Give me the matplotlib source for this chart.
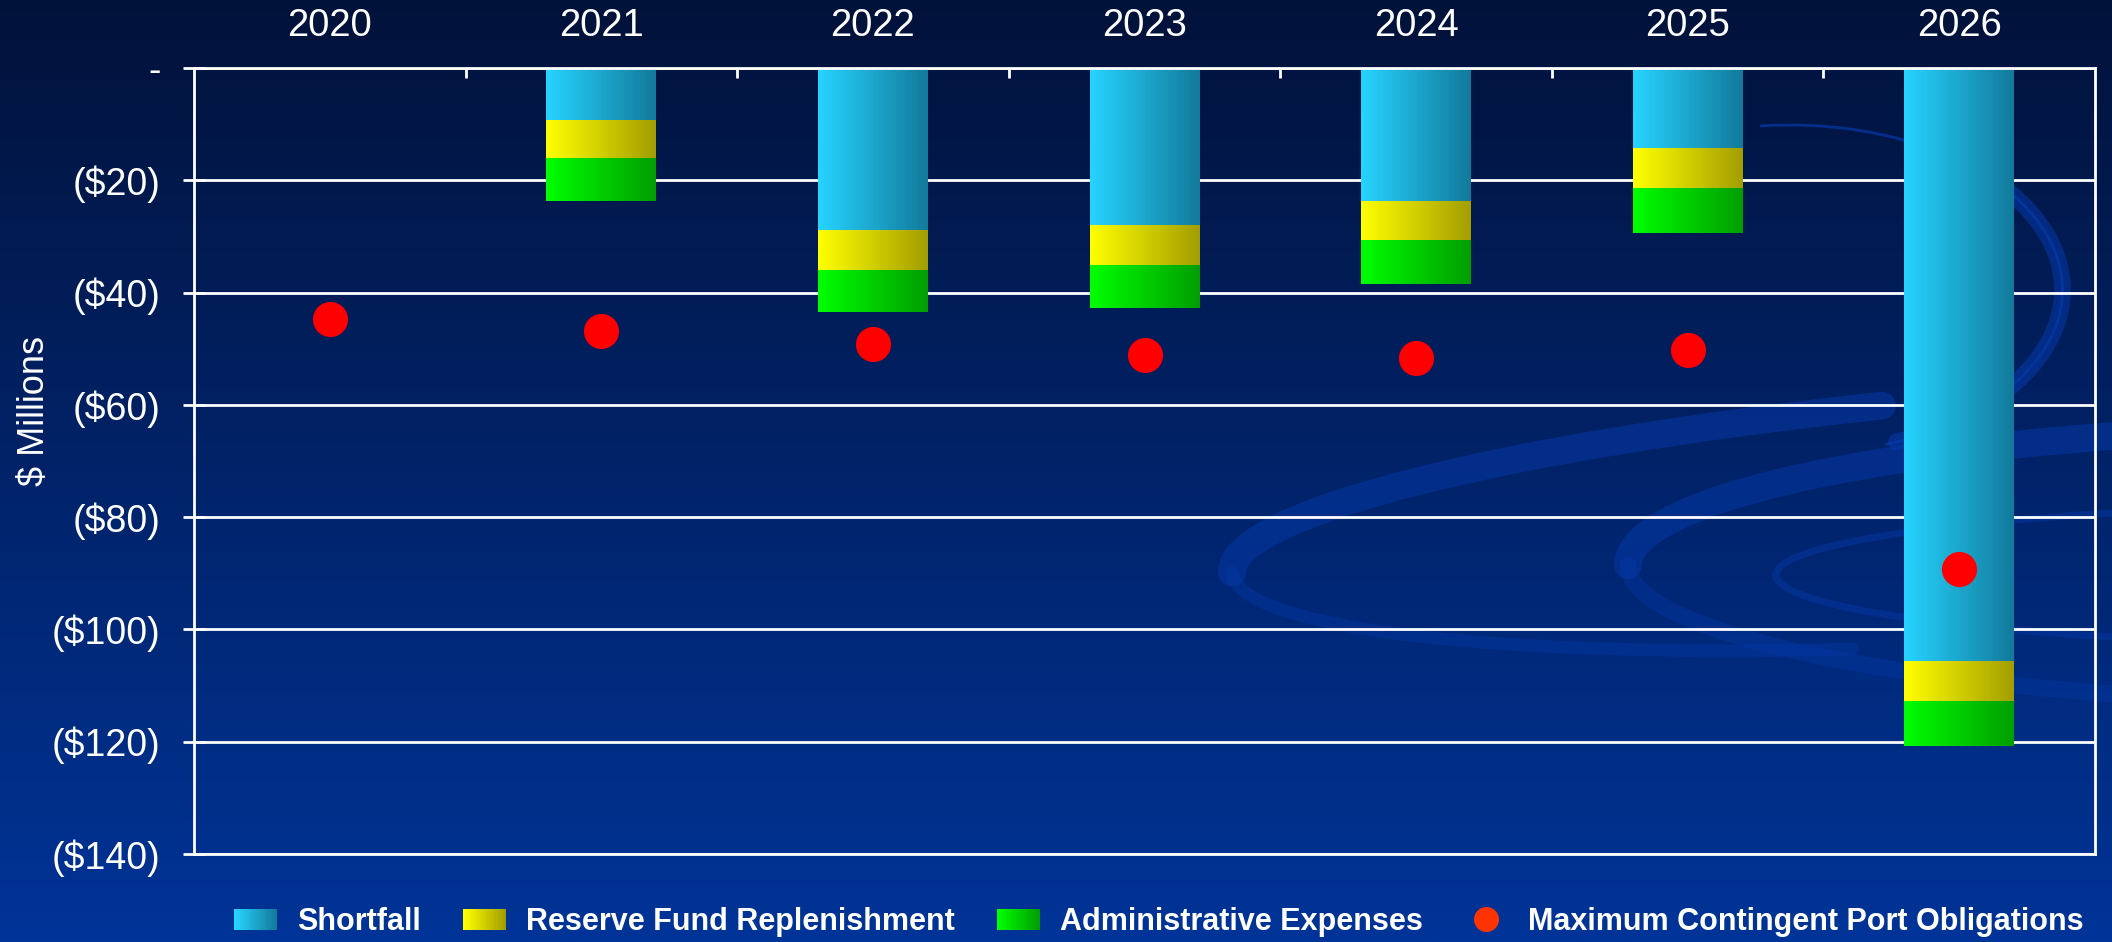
import numpy as np
import matplotlib
matplotlib.use('Agg')
import matplotlib.pyplot as plt
from matplotlib.patches import Rectangle, Ellipse, Arc
from matplotlib.lines import Line2D
from matplotlib.legend_handler import HandlerBase
from matplotlib.colors import to_rgb

# data ($ millions, drawn as negatives)
years = ['2020', '2021', '2022', '2023', '2024', '2025', '2026']
shortfall = [0.0, 9.3, 29.0, 28.1, 23.7, 14.4, 105.6]
reserve = [0.0, 6.9, 7.0, 7.0, 7.1, 7.0, 7.1]
admin = [0.0, 7.5, 7.4, 7.6, 7.7, 8.0, 8.0]
port_max = [44.7, 46.8, 49.1, 51.2, 51.6, 50.3, 89.2]

y_ticks = [0, -20, -40, -60, -80, -100, -120, -140]
y_labels = ['-', '($20)', '($40)', '($60)', '($80)', '($100)', '($120)', '($140)']

series_names = ['Shortfall', 'Reserve Fund Replenishment', 'Administrative Expenses',
                'Maximum Contingent Port Obligations']

# colours (left -> right of each bar)
grad_cyan = ('#26d4ff', '#127a9c')
grad_yellow = ('#ffff00', '#a39e00')
grad_green = ('#00ff00', '#009e00')
dot_red = '#ff0000'


def mix(c1, c2, t):
    a = np.array(to_rgb(c1))
    b = np.array(to_rgb(c2))
    return a + (b - a) * t


def gradient_image(c1, c2, n=256):
    t = np.linspace(0, 1, n)
    return np.array([[mix(c1, c2, v) for v in t]])


class GradientHandler(HandlerBase):
    def __init__(self, c1, c2):
        super().__init__()
        self.c1, self.c2 = c1, c2

    def create_artists(self, legend, orig_handle, xdescent, ydescent,
                       width, height, fontsize, trans):
        n = 24
        arts = []
        for i in range(n):
            c = mix(self.c1, self.c2, i / (n - 1))
            r = Rectangle((-xdescent + i * width / n, -ydescent), width / n * 1.05, height,
                          facecolor=c, edgecolor='none', transform=trans)
            arts.append(r)
        return arts


def swirl_arc(bg, xy, w, h, t1, t2, lw, alpha, angle=0, color='#0539aa'):
    arc = Arc(xy, w, h, angle=angle, theta1=t1, theta2=t2, lw=lw, color=color, alpha=alpha)
    arc.set_capstyle('round')
    bg.add_patch(arc)


def draw_background(fig, W, H):
    # pixel coords, y measured upward
    bg = fig.add_axes([0, 0, 1, 1], zorder=-5)
    top = np.array([2, 18, 58]) / 255.0
    bot = np.array([0, 52, 152]) / 255.0
    tt = np.linspace(0, 1, 400)[:, None]
    grad = top + (bot - top) * tt
    bg.imshow(grad[:, None, :].repeat(2, axis=1), extent=[0, W, 0, H], aspect='auto')

    # first ribbon: left loop + spiral going up to the right
    swirl_arc(bg, (2100, H - 512), 1740, 250, 150, 180, 20, 0.5, angle=4)
    swirl_arc(bg, (2100, H - 512), 1740, 250, 180, 205, 9, 0.4, angle=4)
    swirl_arc(bg, (1790, H - 290), 545, 330, -58, 100, 2, 0.7)
    swirl_arc(bg, (1790, H - 290), 545, 330, -55, 25, 12, 0.55)
    # second ribbon on the right edge
    swirl_arc(bg, (2421, H - 565), 1586, 280, 140, 180, 20, 0.5)
    swirl_arc(bg, (2421, H - 565), 1586, 280, 180, 220, 12, 0.38)
    bg.add_patch(Ellipse((2403, H - 575), 1254, 140, fill=False, lw=5,
                         edgecolor='#0539aa', alpha=0.45))
    # faint sweep near the bottom right
    bg.add_patch(Ellipse((2450, H - 1180), 2000, 520, angle=10, fill=False, lw=40,
                         edgecolor='#0a3eb0', alpha=0.25))
    bg.set_xlim(0, W)
    bg.set_ylim(0, H)
    bg.axis('off')


def main():
    W, H = 2112, 942
    fig = plt.figure(figsize=(W / 100, H / 100), dpi=100)
    plt.rcParams['font.family'] = ['Liberation Sans', 'DejaVu Sans']

    draw_background(fig, W, H)

    ax = fig.add_axes([194 / W, 1 - 854 / H, (2095 - 194) / W, (854 - 68) / H])
    ax.set_facecolor('none')

    x = np.arange(len(years))
    width = 0.405
    s = -np.array(shortfall)
    r = -np.array(reserve)
    a = -np.array(admin)

    # stacked bars (negative direction), then gradient fill inside each rect
    layers = [(s, np.zeros(len(x)), grad_cyan),
              (r, s, grad_yellow),
              (a, s + r, grad_green)]
    for vals, base, cols in layers:
        bars = ax.bar(x, vals, width, bottom=base, color='none', edgecolor='none', zorder=2)
        img = gradient_image(*cols)
        for rect in bars:
            if rect.get_height() == 0:
                continue
            x0 = rect.get_x()
            x1 = x0 + rect.get_width()
            y0 = rect.get_y()
            y1 = y0 + rect.get_height()
            ax.imshow(img, extent=[x0, x1, min(y0, y1), max(y0, y1)], aspect='auto',
                      interpolation='bilinear', zorder=2)

    ax.scatter(x, -np.array(port_max), s=640, color=dot_red, zorder=4, linewidths=0)

    ax.set_xlim(-0.5, len(years) - 0.5)
    ax.set_ylim(-140, 0)

    # y axis
    ax.set_yticks(y_ticks)
    ax.set_yticklabels(y_labels)
    ax.tick_params(axis='y', direction='inout', length=16, width=2, color='white',
                   labelcolor='white', labelsize=27, pad=16)
    ax.grid(axis='y', color='white', lw=2, zorder=1)
    ax.set_axisbelow(True)

    # x axis on top
    ax.xaxis.tick_top()
    ax.set_xticks(x)
    ax.set_xticklabels(years)
    ax.set_xticks(x[:-1] + 0.5, minor=True)
    ax.tick_params(axis='x', which='major', length=0, labelcolor='white', labelsize=27.5, pad=17)
    ax.tick_params(axis='x', which='minor', direction='in', length=7, width=2, color='white',
                   top=True, bottom=False)

    for sp in ax.spines.values():
        sp.set_color('white')
        sp.set_linewidth(2)

    fig.text(34 / W, 1 - 411 / H, '$ Millions', rotation=90, color='white', fontsize=26,
             ha='center', va='center')

    # legend
    h_short = Rectangle((0, 0), 1, 1)
    h_res = Rectangle((0, 0), 1, 1)
    h_adm = Rectangle((0, 0), 1, 1)
    h_dot = Line2D([], [], ls='none', marker='o', markersize=18, color='#ff3300',
                   markeredgewidth=0)
    leg = fig.legend([h_short, h_res, h_adm, h_dot], series_names,
                     handler_map={h_short: GradientHandler(*grad_cyan),
                                  h_res: GradientHandler(*grad_yellow),
                                  h_adm: GradientHandler(*grad_green)},
                     loc='center', bbox_to_anchor=(1159 / W, 1 - 922 / H), ncol=4,
                     frameon=False, handlelength=1.4, handleheight=0.66,
                     handletextpad=0.66, columnspacing=1.38,
                     prop={'weight': 'bold', 'size': 22})
    for t in leg.get_texts():
        t.set_color('white')

    fig.savefig('out.png', dpi=100)


if __name__ == '__main__':
    main()
